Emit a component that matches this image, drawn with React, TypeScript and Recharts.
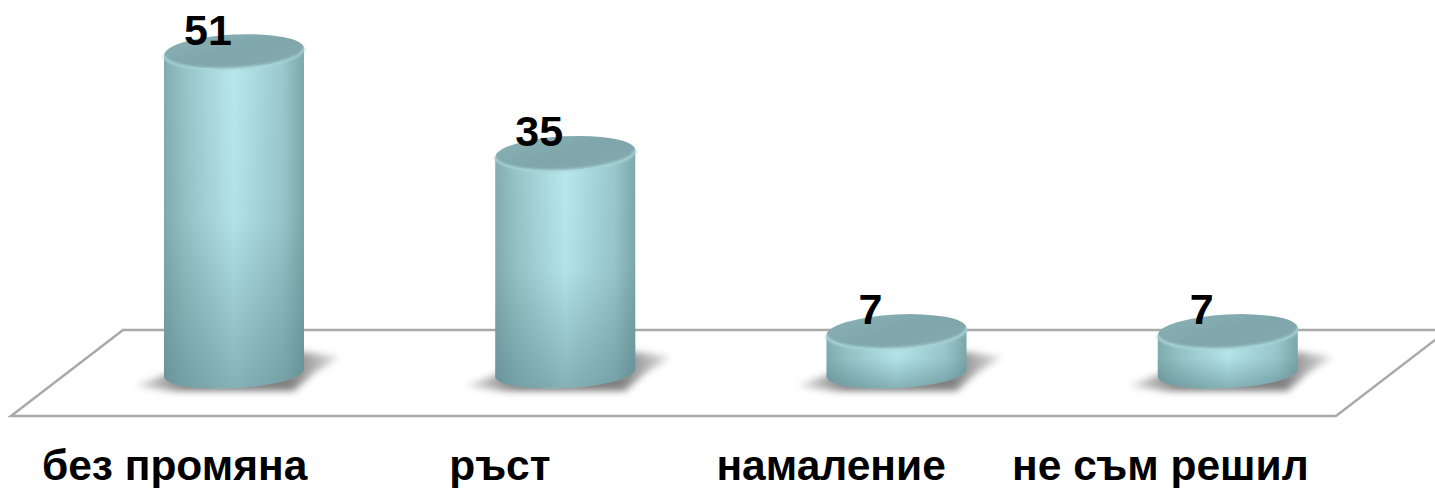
import { BarChart, Bar, XAxis, YAxis, LabelList, Customized } from 'recharts'

const CATEGORIES = ['без промяна', 'ръст', 'намаление', 'не съм решил']
const VALUES = [51, 35, 7, 7]
const Y_MAX = 58

const data = CATEGORIES.map((name, i) => ({ name, value: VALUES[i] }))

const FONT = '"Liberation Sans", Arial, sans-serif'

// category names sit left of their bars because of the 3d floor
const TICK_SHIFT = [-59, -65, -65, -67]

const TILT = -3
const TILT_DROP = 3.7 // vertical offset of the ellipse ends caused by the tilt
const BASE_LIFT = 3

function Cylinder(props: any) {
  const { x, y, width, height } = props
  const rx = width / 2
  const cx = x + rx
  const bc = y + height - BASE_LIFT
  const body =
    `M${x},${y + TILT_DROP} L${x},${bc + TILT_DROP} ` +
    `A${rx},15 ${TILT} 0 0 ${x + width},${bc - TILT_DROP} ` +
    `L${x + width},${y - TILT_DROP} ` +
    `A${rx},17 ${TILT} 0 1 ${x},${y + TILT_DROP} Z`
  const rim = `M${x},${y + TILT_DROP} A${rx},17 ${TILT} 0 0 ${x + width},${y - TILT_DROP}`
  const shadow =
    `M${x - 30},${bc + 13} L${x + 20},${bc - 5} L${x + width},${bc - 21} L${x + width + 36},${bc - 16} ` +
    `L${x + width + 10},${bc} L${x + width - 10},${bc + 18} L${x + 10},${bc + 18} Z`
  return (
    <g>
      <path d={shadow} fill="url(#floorShadow)" filter="url(#floorBlur)" />
      <path d={body} fill="url(#cylSide)" />
      <path d={body} fill="url(#cylShade)" />
      <ellipse cx={cx} cy={y} rx={rx} ry={17} transform={`rotate(${TILT} ${cx} ${y})`} fill="url(#cylTop)" />
      <path d={rim} fill="none" stroke="#a6d4d8" strokeWidth={3} strokeOpacity={0.8} filter="url(#rimBlur)" />
    </g>
  )
}

function Floor() {
  return (
    <polygon
      points="123,330 1448,330 1336,416 11,416"
      fill="#ffffff"
      stroke="#a9a9a9"
      strokeWidth={2.5}
    />
  )
}

function CategoryTick(props: any) {
  const { x, index, payload } = props
  return (
    <text
      x={x + TICK_SHIFT[index]}
      y={480}
      textAnchor="middle"
      fontFamily={FONT}
      fontWeight="bold"
      fontSize={42.5}
      fill="#000"
    >
      {payload.value}
    </text>
  )
}

function ValueLabel(props: any) {
  const { x, y, width, value } = props
  return (
    <text x={x + width / 2 - 26} y={y - 7} textAnchor="middle" fontFamily={FONT} fontWeight="bold" fontSize={43} fill="#000">
      {value}
    </text>
  )
}

export default function App() {
  return (
    <div style={{ position: 'absolute', left: 0, top: 0, width: 1435, height: 488, background: '#fff', overflow: 'hidden' }}>
      <BarChart
        width={1435}
        height={488}
        data={data}
        margin={{ top: 7, right: 42, bottom: 82, left: 68 }}
      >
        <defs>
          <linearGradient id="cylSide" x1="0" y1="0" x2="1" y2="0">
            <stop offset="0" stopColor="#82acb0" />
            <stop offset="0.15" stopColor="#98c4c8" />
            <stop offset="0.5" stopColor="#b9e9ee" />
            <stop offset="0.85" stopColor="#9ac8cc" />
            <stop offset="1" stopColor="#7da8ac" />
          </linearGradient>
          <linearGradient id="cylShade" x1="0" y1="0" x2="0" y2="1">
            <stop offset="0" stopColor="#4f7a80" stopOpacity={0} />
            <stop offset="0.5" stopColor="#4f7a80" stopOpacity={0.06} />
            <stop offset="1" stopColor="#4f7a80" stopOpacity={0.5} />
          </linearGradient>
          <linearGradient id="cylTop" x1="0" y1="0" x2="1" y2="1">
            <stop offset="0" stopColor="#8ab1b5" />
            <stop offset="0.5" stopColor="#7fa6ab" />
            <stop offset="1" stopColor="#84aaae" />
          </linearGradient>
          <linearGradient id="floorShadow" x1="0" y1="0" x2="1" y2="0">
            <stop offset="0" stopColor="#e4e4e4" />
            <stop offset="0.25" stopColor="#808080" />
            <stop offset="0.75" stopColor="#808080" />
            <stop offset="1" stopColor="#e4e4e4" />
          </linearGradient>
          <filter id="floorBlur" x="-20%" y="-50%" width="140%" height="200%">
            <feGaussianBlur stdDeviation="3.5" />
          </filter>
          <filter id="rimBlur" x="-5%" y="-50%" width="110%" height="200%">
            <feGaussianBlur stdDeviation="1.2" />
          </filter>
        </defs>
        <Customized component={Floor} />
        <XAxis dataKey="name" axisLine={false} tickLine={false} interval={0} tick={<CategoryTick />} />
        <YAxis hide domain={[0, Y_MAX]} />
        <Bar dataKey="value" barSize={140} shape={<Cylinder />} isAnimationActive={false}>
          <LabelList dataKey="value" content={<ValueLabel />} />
        </Bar>
      </BarChart>
    </div>
  )
}
